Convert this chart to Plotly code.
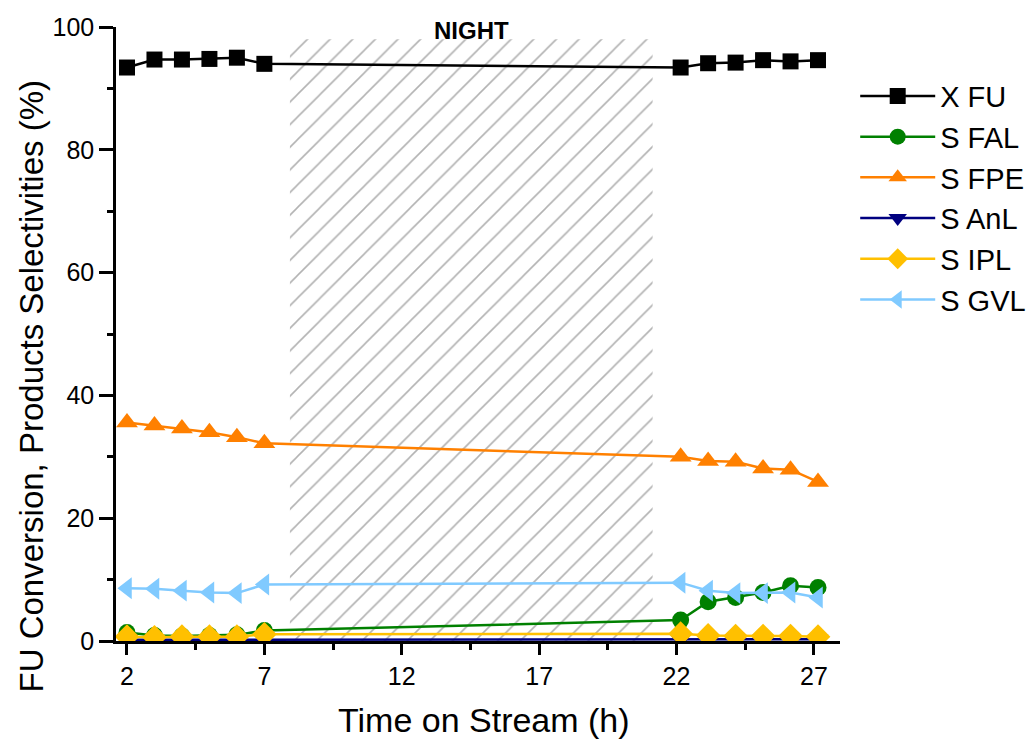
import plotly.graph_objects as go

# ---- data ----
time_h = [2, 3, 4, 5, 6, 7, 22.15, 23.15, 24.15, 25.15, 26.15, 27.15]
x_fu = [93.4, 94.7, 94.7, 94.8, 95.0, 94.0, 93.4, 94.1, 94.2, 94.6, 94.4, 94.6]
s_fal = [1.4, 0.9, 0.8, 0.9, 1.0, 1.7, 3.4, 6.4, 7.1, 7.9, 9.0, 8.7]
s_fpe = [35.6, 35.1, 34.6, 34.0, 33.2, 32.2, 30.0, 29.3, 29.2, 28.1, 27.9, 25.9]
s_anl = [0.2, 0.2, 0.2, 0.2, 0.2, 0.3, 0.3, 0.3, 0.3, 0.3, 0.3, 0.3]
s_ipl = [0.7, 0.6, 0.7, 0.7, 0.7, 1.1, 1.2, 0.9, 0.8, 0.8, 0.8, 0.7]
s_gvl = [8.6, 8.5, 8.2, 7.9, 7.8, 9.2, 9.5, 8.2, 7.8, 7.8, 7.9, 7.1]

night_x = [7.93, 21.13]
night_top = 98
x_ticks = [2, 7, 12, 17, 22, 27]

series = [
    ("X FU", x_fu, "#000000", "square", 16),
    ("S FAL", s_fal, "#008000", "circle", 17),
    ("S FPE", s_fpe, "#FF8000", "triangle-up", 19),
    ("S AnL", s_anl, "#000080", "triangle-down", 18),
    ("S IPL", s_ipl, "#FFC000", "diamond", 19),
    ("S GVL", s_gvl, "#80CAFF", "triangle-left", 19),
]

FONT = "Liberation Sans, Arial, sans-serif"

fig = go.Figure()

# night hatched region
fig.add_trace(go.Scatter(
    x=[night_x[0], night_x[1], night_x[1], night_x[0], night_x[0]],
    y=[0, 0, night_top, night_top, 0],
    mode="lines", line=dict(width=0, color="rgba(0,0,0,0)"),
    fill="toself", fillcolor="rgba(0,0,0,0)",
    fillpattern=dict(shape="/", size=16, solidity=0.1,
                     fgcolor="#666666", bgcolor="rgba(0,0,0,0)"),
    showlegend=False, hoverinfo="skip",
))

for name, vals, color, sym, size in series:
    fig.add_trace(go.Scatter(
        x=time_h, y=vals, name=name, mode="lines+markers",
        line=dict(color=color, width=2.5),
        marker=dict(symbol=sym, size=size, color=color),
    ))

fig.add_annotation(
    x=(night_x[0] + night_x[1]) / 2, y=99.5, xref="x", yref="y",
    text="<b>NIGHT</b>", showarrow=False,
    font=dict(family=FONT, size=24, color="black"),
)

# axis titles as annotations for exact placement
fig.add_annotation(
    x=0.508, y=-0.129, xref="paper", yref="paper",
    xanchor="center", yanchor="middle",
    text="Time on Stream (h)", showarrow=False,
    font=dict(family=FONT, size=34, color="black"),
)
fig.add_annotation(
    x=-0.117, y=0.415, xref="paper", yref="paper",
    xanchor="center", yanchor="middle", textangle=-90,
    text="FU Conversion, Products Selectivities (%)", showarrow=False,
    font=dict(family=FONT, size=33, color="black"),
)

fig.update_layout(
    width=1036, height=740,
    margin=dict(l=108, r=204, t=19, b=107, autoexpand=False),
    paper_bgcolor="white", plot_bgcolor="white",
    font=dict(family=FONT, color="black"),
    legend=dict(
        x=1.021, y=0.929, xanchor="left", yanchor="top",
        font=dict(family=FONT, size=29),
        itemwidth=75, tracegroupgap=0,
        bgcolor="rgba(0,0,0,0)",
    ),
    xaxis=dict(
        range=[1.6, 27.95], automargin=False,
        tickmode="array", tickvals=x_ticks, ticktext=[str(v) for v in x_ticks],
        ticks="outside", ticklen=11, tickwidth=2.5, tickcolor="black",
        minor=dict(tickmode="linear", tick0=4.5, dtick=5, ticks="outside",
                   ticklen=6, tickwidth=2.5, tickcolor="black"),
        showline=True, linecolor="black", linewidth=2.5,
        showgrid=False, zeroline=False,
        tickfont=dict(family=FONT, size=25),
    ),
    yaxis=dict(
        range=[0, 100], automargin=False,
        tickmode="linear", tick0=0, dtick=20,
        ticks="outside", ticklen=14, tickwidth=2.5, tickcolor="black",
        minor=dict(tickmode="linear", tick0=10, dtick=20, ticks="outside",
                   ticklen=6, tickwidth=2.5, tickcolor="black"),
        showline=True, linecolor="black", linewidth=2.5,
        showgrid=False, zeroline=False,
        tickfont=dict(family=FONT, size=25),
    ),
)

fig.write_html("out.html")
